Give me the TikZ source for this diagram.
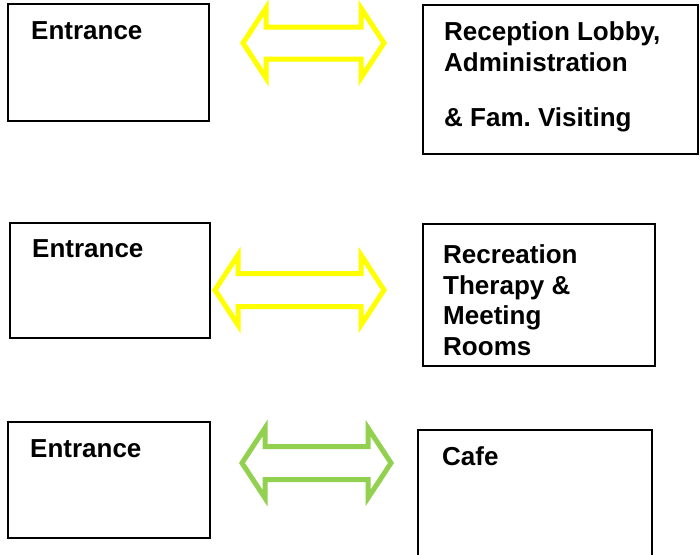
\documentclass[tikz,border=0pt]{standalone}
\usepackage{fontspec}
\setmainfont{Liberation Sans}
\definecolor{arrowyellow}{HTML}{FFFF00}
\definecolor{arrowgreen}{HTML}{92D050}
\frenchspacing
\begin{document}
\begin{tikzpicture}[x=1pt,y=-1pt,
  roombox/.style={draw=black,line width=1.6pt},
  label/.style={inner sep=0pt,font=\bfseries\fontsize{26}{30.5}\selectfont,align=left},
  twoway/.style={line width=5pt,line join=miter,miter limit=10}]
\useasboundingbox (0,0) rectangle (700,554);

% boxes
\draw[roombox] (8,4) rectangle (209,121);
\draw[roombox] (423,5) rectangle (698,154);
\draw[roombox] (10,223) rectangle (210,338);
\draw[roombox] (423,224) rectangle (655,366);
\draw[roombox] (8,422) rectangle (210,538);
\draw[roombox] (418,430) rectangle (652,570);

% labels
\node[label,anchor=base west] (ent1) at (31,39) {Entrance};
\node[label,anchor=north west] (recep) at (444,21.5)
  {Reception Lobby,\\Administration\\[25pt]\& Fam. Visiting};
\node[label,anchor=base west] (ent2) at (32,257) {Entrance};
\node[label,anchor=north west] (recr) at (443,244.5)
  {Recreation\\Therapy \&\\Meeting\\Rooms};
\node[label,anchor=base west] (ent3) at (30,457) {Entrance};
\node[label,anchor=base west] (cafe) at (442,465) {Cafe};

% two-way arrows
\draw[twoway,draw=arrowyellow] (243,43) -- (266,8) -- (266,27) -- (361,27) -- (361,8)
  -- (384,43) -- (361,78) -- (361,59) -- (266,59) -- (266,78) -- cycle;
\draw[twoway,draw=arrowyellow] (215,290) -- (238,255) -- (238,273.5) -- (361,273.5) -- (361,255)
  -- (384,290) -- (361,325) -- (361,306.5) -- (238,306.5) -- (238,325) -- cycle;
\draw[twoway,draw=arrowgreen] (242,463) -- (265,428) -- (265,446.5) -- (368,446.5) -- (368,428)
  -- (391,463) -- (368,498) -- (368,479.5) -- (265,479.5) -- (265,498) -- cycle;
\end{tikzpicture}
\end{document}
